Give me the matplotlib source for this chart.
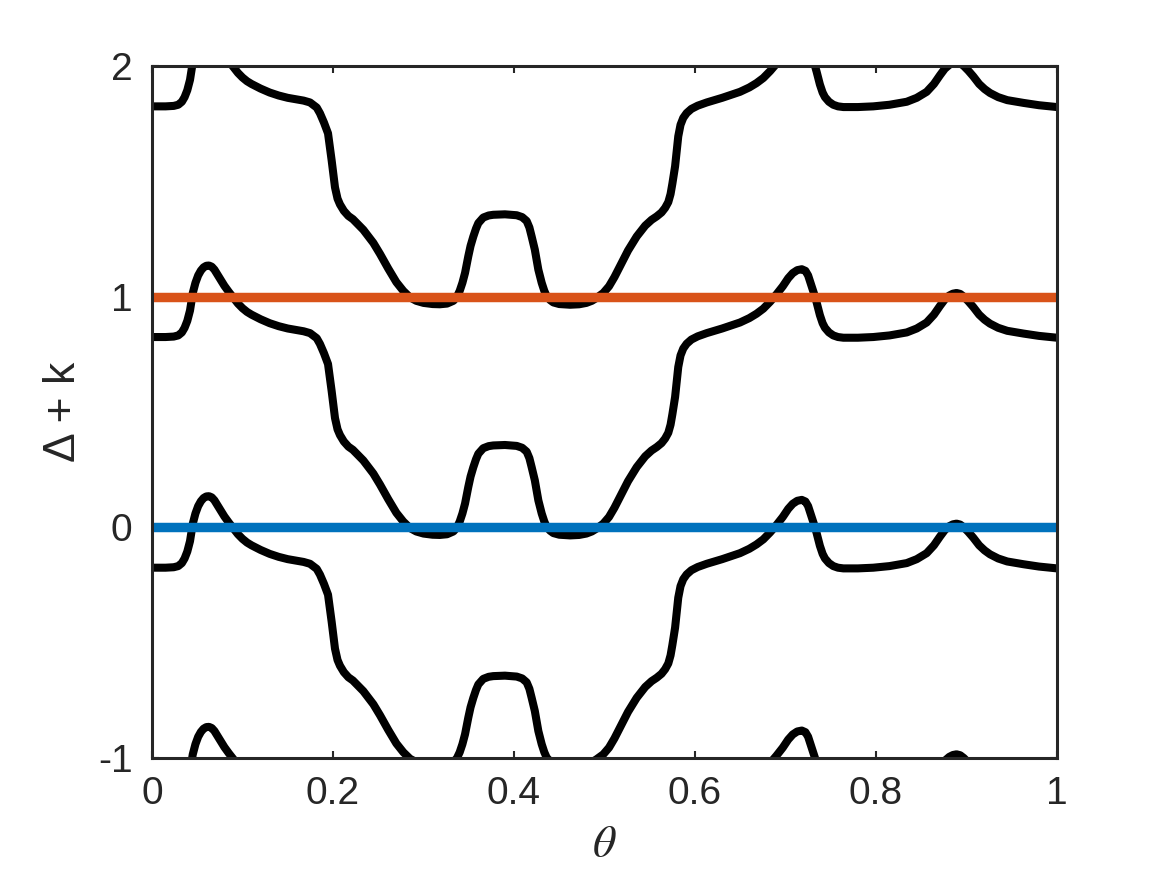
import matplotlib
matplotlib.use("Agg")
import matplotlib.pyplot as plt
import numpy as np

plt.rcParams['font.family'] = ['Liberation Sans', 'DejaVu Sans']
plt.rcParams['mathtext.fontset'] = 'stix'

theta = [0.000, 0.015, 0.024, 0.029, 0.033, 0.036, 0.039, 0.042, 0.045, 0.048,
         0.051, 0.054, 0.057, 0.060, 0.063, 0.066, 0.069, 0.072, 0.076, 0.080,
         0.085, 0.090, 0.095, 0.100, 0.105, 0.110, 0.120, 0.130, 0.140, 0.150,
         0.160, 0.1675, 0.1746, 0.182, 0.1856, 0.190, 0.1945, 0.1985, 0.2022, 0.205,
         0.2077, 0.212, 0.217, 0.222, 0.2335, 0.2446, 0.252, 0.261, 0.270, 0.2777,
         0.285, 0.292, 0.300, 0.310, 0.318, 0.326, 0.333, 0.337, 0.340, 0.343,
         0.3459, 0.3495, 0.352, 0.355, 0.358, 0.3606, 0.366, 0.372, 0.3771, 0.390,
         0.403, 0.409, 0.414, 0.417, 0.4195, 0.423, 0.4269, 0.4306, 0.4335, 0.4361,
         0.440, 0.4435, 0.450, 0.462, 0.472, 0.480, 0.486, 0.491, 0.4987, 0.505,
         0.511, 0.517, 0.526, 0.5356, 0.545, 0.552, 0.5577, 0.563, 0.567, 0.5705,
         0.573, 0.575, 0.578, 0.5815, 0.584, 0.587, 0.5908, 0.596, 0.603, 0.613,
         0.630, 0.6497, 0.660, 0.668, 0.6755, 0.683, 0.690, 0.697, 0.703, 0.708,
         0.713, 0.718, 0.722, 0.725, 0.7285, 0.7326, 0.7344, 0.738, 0.741, 0.7436,
         0.748, 0.7528, 0.758, 0.764, 0.780, 0.797, 0.815, 0.834, 0.845, 0.856,
         0.864, 0.8707, 0.876, 0.881, 0.885, 0.889, 0.893, 0.897, 0.902, 0.9075,
         0.914, 0.920, 0.926, 0.935, 0.945, 0.963, 0.980, 1.000]
delta = [-0.175, -0.175, -0.173, -0.168, -0.155, -0.135, -0.105, -0.060, 0.015, 0.060,
         0.092, 0.113, 0.127, 0.134, 0.135, 0.130, 0.117, 0.098, 0.072, 0.047,
         0.020, -0.005, -0.030, -0.050, -0.066, -0.078, -0.098, -0.115, -0.128, -0.138,
         -0.145, -0.150, -0.158, -0.180, -0.205, -0.245, -0.292, -0.409, -0.526, -0.575,
         -0.600, -0.628, -0.650, -0.664, -0.710, -0.767, -0.815, -0.878, -0.937, -0.975,
         -1.003, -1.018, -1.027, -1.032, -1.033, -1.030, -1.018, -1.000, -0.975, -0.940,
         -0.897, -0.825, -0.780, -0.740, -0.705, -0.681, -0.657, -0.648, -0.645, -0.643,
         -0.647, -0.655, -0.672, -0.700, -0.739, -0.796, -0.883, -0.940, -0.975, -0.998,
         -1.015, -1.025, -1.032, -1.035, -1.033, -1.027, -1.018, -1.006, -0.984, -0.955,
         -0.915, -0.869, -0.800, -0.739, -0.692, -0.667, -0.652, -0.635, -0.615, -0.590,
         -0.555, -0.510, -0.435, -0.305, -0.255, -0.225, -0.204, -0.186, -0.172, -0.158,
         -0.138, -0.112, -0.093, -0.074, -0.052, -0.022, 0.010, 0.045, 0.080, 0.102,
         0.115, 0.119, 0.112, 0.092, 0.050, 0.000, -0.025, -0.080, -0.115, -0.135,
         -0.155, -0.168, -0.175, -0.178, -0.178, -0.175, -0.168, -0.155, -0.138, -0.112,
         -0.078, -0.040, -0.012, 0.005, 0.013, 0.016, 0.012, 0.000, -0.020, -0.045,
         -0.078, -0.100, -0.117, -0.135, -0.148, -0.160, -0.170, -0.178]

shifts = [-1, 0, 1, 2]
ref_levels = [0, 1]
ref_colors = ['#0072BD', '#D95319']

axis_color = '#262626'

fig = plt.figure(figsize=(11.67, 8.75), dpi=100)
ax = fig.add_axes([152 / 1167, 1 - 758 / 875, 905 / 1167, 692 / 875])

th = np.array(theta)
d = np.array(delta)
for k in shifts:
    ax.plot(th, d + k, color='k', linewidth=5.8, solid_capstyle='round',
            solid_joinstyle='round')

for lev, c in zip(ref_levels, ref_colors):
    ax.plot([0, 1], [lev, lev], color=c, linewidth=6.8, solid_capstyle='butt')

ax.set_xlim(0, 1)
ax.set_ylim(-1, 2)
ax.set_xticks([0, 0.2, 0.4, 0.6, 0.8, 1])
ax.set_xticklabels(['0', '0.2', '0.4', '0.6', '0.8', '1'])
ax.set_yticks([-1, 0, 1, 2])
ax.set_yticklabels(['-1', '0', '1', '2'])

ax.tick_params(direction='in', length=5, width=1.5, colors=axis_color,
               labelsize=28, top=True, right=True)
ax.tick_params(axis='x', pad=13)
ax.tick_params(axis='y', pad=14)
for s in ax.spines.values():
    s.set_color(axis_color)
    s.set_linewidth(2.2)

ax.set_xlabel(r'$\theta$', fontsize=33, color=axis_color, labelpad=8)
ax.set_ylabel('Δ + k', fontsize=32, color=axis_color, labelpad=10)

fig.savefig('out.png', dpi=100)
